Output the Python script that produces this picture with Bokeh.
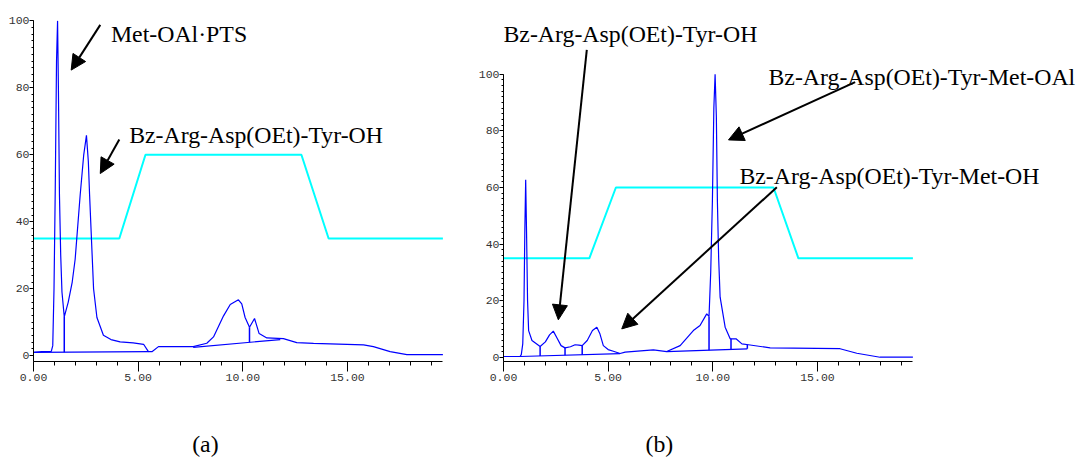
from bokeh.plotting import figure
from bokeh.models import Label, Arrow, NormalHead, FixedTicker, NumeralTickFormatter, Range1d
from bokeh.layouts import row, column
from bokeh.embed import file_html
from bokeh.resources import INLINE

# ---------------- data: chromatogram (a) ----------------
a_time = [0.0, 0.4, 0.85, 0.92, 0.98, 1.04, 1.10, 1.15, 1.19, 1.24, 1.30, 1.36, 1.47,
          1.66, 1.85, 1.99, 2.23, 2.40, 2.53, 2.62, 2.68, 2.87, 3.03, 3.34, 3.70, 4.14,
          4.76, 5.26, 5.49, 5.66, 5.97, 7.63, 8.28, 8.60, 9.08, 9.40, 9.79, 9.95, 10.11,
          10.32, 10.56, 10.78, 11.15, 11.94, 12.58, 13.38, 15.77, 16.24, 17.04, 17.84, 19.56]
a_signal = [1.0, 1.25, 1.3, 3.0, 20.0, 50.0, 88.0, 100.0, 80.0, 48.0, 30.0, 19.0, 11.6,
            16.0, 22.0, 28.8, 48.0, 60.0, 65.8, 58.0, 48.0, 20.0, 11.4, 6.1, 4.8, 4.1,
            3.8, 3.4, 1.2, 1.2, 2.7, 2.7, 3.7, 5.6, 11.9, 15.3, 16.7, 15.5, 11.4,
            8.5, 11.1, 6.6, 5.3, 5.1, 3.9, 3.7, 3.2, 2.7, 1.2, 0.3, 0.3]
a_grad_time = [0.0, 4.1, 5.35, 12.8, 14.1, 19.56]
a_grad_pct = [35, 35, 60, 60, 35, 35]
a_base_x0 = [0.0, 7.63]
a_base_y0 = [1.0, 2.5]
a_base_x1 = [5.49, 11.79]
a_base_y1 = [1.2, 4.8]
a_drop_x = [1.47, 10.32]
a_drop_top = [11.6, 8.5]
a_drop_bottom = [1.05, 4.0]

# ---------------- data: chromatogram (b) ----------------
b_time = [0.0, 0.79, 0.85, 0.92, 0.98, 1.02, 1.06, 1.10, 1.15, 1.20, 1.36, 1.75, 2.0,
          2.2, 2.38, 2.55, 2.75, 2.94, 3.2, 3.42, 3.6, 3.76, 4.0, 4.25, 4.46, 4.6, 4.77,
          5.0, 5.25, 5.57, 5.81, 7.16, 7.8, 8.44, 9.07, 9.39, 9.60, 9.71, 9.82, 9.90,
          9.98, 10.05, 10.11, 10.17, 10.22, 10.28, 10.35, 10.59, 10.83, 11.11, 11.39,
          11.7, 12.74, 16.08, 16.88, 17.99, 19.56]
b_signal = [0.35, 0.35, 1.0, 4.8, 20.0, 45.0, 62.7, 44.8, 20.0, 9.5, 6.0, 3.9, 5.5,
            8.0, 9.3, 7.0, 4.2, 3.4, 3.8, 4.5, 4.4, 4.2, 6.0, 9.5, 10.7, 8.5, 4.2,
            2.8, 2.2, 1.4, 1.9, 2.7, 2.1, 4.2, 9.5, 11.3, 14.0, 15.4, 14.5, 30.0,
            55.0, 88.0, 100.0, 85.0, 55.0, 35.0, 21.3, 10.7, 6.6, 6.6, 4.8,
            4.5, 3.4, 3.1, 1.5, 0.1, 0.1]
b_grad_time = [0.0, 4.1, 5.37, 12.9, 14.09, 19.56]
b_grad_pct = [35, 35, 60, 60, 35, 35]
b_base_x0 = [0.79, 7.8]
b_base_y0 = [0.35, 2.1]
b_base_x1 = [5.57, 11.65]
b_base_y1 = [1.4, 3.05]
b_drop_x = [1.75, 2.94, 3.76, 9.82, 10.87, 11.65]
b_drop_top = [3.9, 3.4, 4.2, 14.5, 6.6, 4.5]
b_drop_bottom = [0.56, 0.82, 1.0, 2.6, 2.9, 3.05]

x_major = [0, 5, 10, 15]
x_minor = list(range(0, 20))
y_major = [0, 20, 40, 60, 80, 100]
y_minor = list(range(0, 101, 2))
x_axis_end = 19.56

BLUE = "#0000ff"
CYAN = "#00ffff"
SERIF = "Liberation Serif"
MONO = "Liberation Mono"


def make_fig(width, height, x_end, y_start, y_end, mb_left, mb_bottom):
    p = figure(width=width, height=height,
               x_range=Range1d(0, x_end), y_range=Range1d(y_start, y_end),
               output_backend="svg", toolbar_location=None,
               min_border_left=mb_left, min_border_right=0,
               min_border_top=0, min_border_bottom=mb_bottom)
    p.outline_line_color = None
    p.grid.visible = False
    p.background_fill_color = "white"
    p.border_fill_color = "white"

    xa = p.xaxis[0]
    xa.ticker = FixedTicker(ticks=x_major, minor_ticks=x_minor)
    xa.formatter = NumeralTickFormatter(format="0.00")
    xa.bounds = (0, x_axis_end)
    xa.major_tick_out = 10
    xa.major_tick_in = 0
    xa.minor_tick_out = 4
    xa.minor_tick_in = 0
    xa.major_label_standoff = 2
    xa.major_label_text_align = "left"

    ya = p.yaxis[0]
    ya.ticker = FixedTicker(ticks=y_major, minor_ticks=y_minor)
    ya.bounds = (y_start, 100)
    ya.major_tick_out = 4
    ya.major_tick_in = 0
    ya.minor_tick_out = 2
    ya.minor_tick_in = 0
    ya.major_label_standoff = 0

    for ax in (xa, ya):
        ax.axis_line_color = "black"
        ax.axis_line_width = 1
        ax.major_tick_line_color = "black"
        ax.minor_tick_line_color = "black"
        ax.major_label_text_font = MONO
        ax.major_label_text_font_size = "11.5px"
        ax.major_label_text_color = "#333333"
    return p


def add_label(p, text, x, y):
    p.add_layout(Label(x=x, y=y, text=text, text_font=SERIF, text_font_size="23.8px",
                       text_color="black", text_align="left", text_baseline="alphabetic"))


def add_arrow(p, x0, y0, x1, y1, lw=2):
    p.add_layout(Arrow(end=NormalHead(size=15, fill_color="black", line_color="black"),
                       x_start=x0, y_start=y0, x_end=x1, y_end=y1,
                       line_color="black", line_width=lw))


# ---------------- figure (a) ----------------
pa = make_fig(474, 412, 441 / 20.93, -1.74, 106.09, 33, 40)
pa.line(a_grad_time, a_grad_pct, line_color=CYAN, line_width=2)
pa.line(a_time, a_signal, line_color=BLUE, line_width=1.2)
pa.segment(a_base_x0, a_base_y0, a_base_x1, a_base_y1, line_color=BLUE, line_width=1.2)
pa.segment(a_drop_x, a_drop_bottom, a_drop_x, a_drop_top, line_color=BLUE, line_width=1.5)
add_label(pa, "Met-OAl·PTS", 3.70, 96.1)
add_label(pa, "Bz-Arg-Asp(OEt)-Tyr-OH", 4.57, 65.9)
add_arrow(pa, 3.19, 98.8, 1.80, 85.3)
add_arrow(pa, 4.10, 64.55, 3.19, 54.4)

# ---------------- figure (b) ----------------
pb = make_fig(608, 412, 579 / 20.93, -1.41, 126.0, 29, 51)
pb.line(b_grad_time, b_grad_pct, line_color=CYAN, line_width=2)
pb.line(b_time, b_signal, line_color=BLUE, line_width=1.2)
pb.segment(b_base_x0, b_base_y0, b_base_x1, b_base_y1, line_color=BLUE, line_width=1.2)
pb.segment(b_drop_x, b_drop_bottom, b_drop_x, b_drop_top, line_color=BLUE, line_width=1.5)
add_label(pb, "Bz-Arg-Asp(OEt)-Tyr-OH", 0.0, 114.2)
add_label(pb, "Bz-Arg-Asp(OEt)-Tyr-Met-OAl", 12.66, 98.9)
add_label(pb, "Bz-Arg-Asp(OEt)-Tyr-Met-OH", 11.27, 64.2)
add_arrow(pb, 3.98, 108.6, 2.62, 13.3)
add_arrow(pb, 16.80, 97.2, 10.75, 76.8)
add_arrow(pb, 13.06, 60.1, 5.65, 10.1)

# ---------------- caption strip with (a) / (b) ----------------
strip = figure(width=1082, height=46, x_range=Range1d(0, 1082), y_range=Range1d(0, 46),
               output_backend="svg", toolbar_location=None,
               x_axis_location=None, y_axis_location=None, min_border=0)
strip.outline_line_color = None
strip.grid.visible = False
add_label(strip, "(a)", 191.7, 14.5)
add_label(strip, "(b)", 645.0, 14.5)

layout = column(row(pa, pb), strip)
open("out.html", "w").write(file_html(layout, INLINE))
